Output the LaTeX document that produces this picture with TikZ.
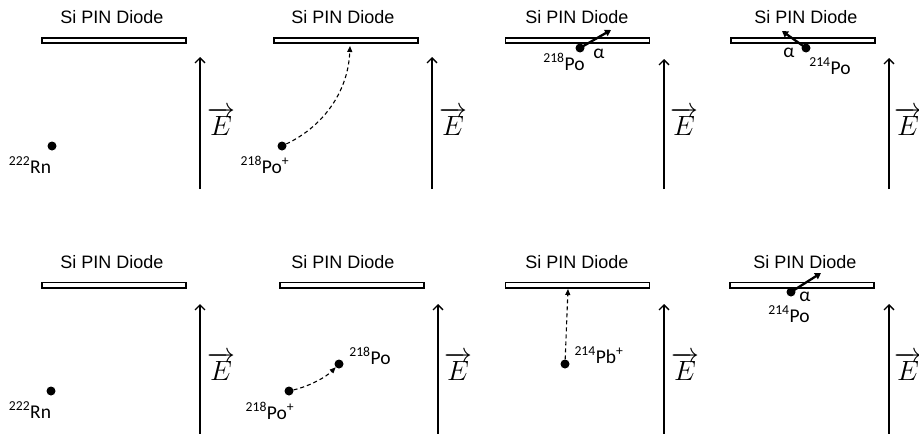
\documentclass[tikz,border=0pt]{standalone}
\usepackage{fontspec}
\setmainfont{Liberation Sans}
\newfontfamily\isofont{Carlito}
\usetikzlibrary{arrows.meta}
\newcommand\fieldsym{\scalebox{1.12}{\Huge$\overrightarrow{E}$}}
\begin{document}
\begin{tikzpicture}[x=1pt,y=-1pt,
  title/.style={font=\fontsize{18}{20}\selectfont, inner sep=0pt},
  diode/.style={draw, line width=1.8pt, fill=white, minimum width=144pt,
    minimum height=5.2pt, inner sep=0pt, outer sep=0pt},
  field/.style={line width=1.3pt, -{Straight Barb[length=5pt,width=10pt,line width=1.3pt]}},
  elabel/.style={inner sep=0pt},
  atom/.style={circle, fill=black, minimum size=9pt, inner sep=0pt},
  iso/.style={font=\isofont\fontsize{19.5}{21}\selectfont, inner sep=0pt},
  drift/.style={line width=1.1pt, dash pattern=on 4pt off 3pt,
    -{Triangle[length=6pt,width=5pt]}},
  alpha/.style={line width=2.3pt, -{Triangle[length=6pt,width=7pt]}},
]
\useasboundingbox (0,0) rectangle (919,434);

% ---------- top row ----------
% panel 1: radon atom
\node[title] (t1) at (112,17) {Si PIN Diode};
\node[diode] (d1) at (114,40.5) {};
\coordinate (e1a) at (200,189); \coordinate (e1b) at (200,57);
\draw[field] (e1a) -- (e1b);
\node[elabel] (E1) at (221,121) {\fieldsym};
\node[atom] (a1) at (52,146) {};
\node[iso] (l1) at (30,165) {\textsuperscript{222}Rn};

% panel 2: Po-218 ion drifting to the diode
\node[title] (t2) at (343,17) {Si PIN Diode};
\node[diode] (d2) at (346,40.5) {};
\coordinate (e2a) at (432,189); \coordinate (e2b) at (432,57);
\draw[field] (e2a) -- (e2b);
\node[elabel] (E2) at (453,121) {\fieldsym};
\node[atom] (a2) at (282,146) {};
\node[iso] (l2) at (265,165) {\textsuperscript{218}Po\textsuperscript{+}};
\coordinate (h2) at (350,46);
\draw[drift] (a2) .. controls (320,128) and (348,95) .. (h2);

% panel 3: Po-218 alpha decay on the diode
\node[title] (t3) at (577,17) {Si PIN Diode};
\node[diode] (d3) at (577.5,40.5) {};
\coordinate (e3a) at (664,189); \coordinate (e3b) at (664,59);
\draw[field] (e3a) -- (e3b);
\node[elabel] (E3) at (684,121) {\fieldsym};
\node[atom] (a3) at (580,48) {};
\coordinate (h3) at (611,30);
\draw[alpha] (a3.center) -- (h3);
\node[iso] (al3) at (599,54) {α};
\node[iso] (l3) at (564,62) {\textsuperscript{218}Po};

% panel 4: Po-214 alpha decay on the diode
\node[title] (t4) at (806,17) {Si PIN Diode};
\node[diode] (d4) at (803,40.5) {};
\coordinate (e4a) at (889,189); \coordinate (e4b) at (889,58);
\draw[field] (e4a) -- (e4b);
\node[elabel] (E4) at (908,121) {\fieldsym};
\node[atom] (a4) at (806,48) {};
\coordinate (h4) at (782,31);
\draw[alpha] (a4.center) -- (h4);
\node[iso] (al4) at (789,53) {α};
\node[iso] (l4) at (830,66) {\textsuperscript{214}Po};

% ---------- bottom row ----------
% panel 5: radon atom
\node[title] (t5) at (112,262) {Si PIN Diode};
\node[diode] (d5) at (114,285) {};
\coordinate (e5a) at (200,440); \coordinate (e5b) at (200,304);
\draw[field] (e5a) -- (e5b);
\node[elabel] (E5) at (221,366) {\fieldsym};
\node[atom] (a5) at (51,391) {};
\node[iso] (l5) at (30,410) {\textsuperscript{222}Rn};

% panel 6: Po-218 ion neutralised in flight
\node[title] (t6) at (343,262) {Si PIN Diode};
\node[diode] (d6) at (352,285) {};
\coordinate (e6a) at (438,440); \coordinate (e6b) at (438,304);
\draw[field] (e6a) -- (e6b);
\node[elabel] (E6) at (458,366) {\fieldsym};
\node[atom] (a6) at (289,391) {};
\node[atom] (b6) at (339,364) {};
\node[iso] (l6) at (270,411) {\textsuperscript{218}Po\textsuperscript{+}};
\node[iso] (m6) at (370,356) {\textsuperscript{218}Po};
\draw[drift] (a6) .. controls (310,386) and (326,377) .. (b6);

% panel 7: Pb-214 ion drifting to the diode
\node[title] (t7) at (577,262) {Si PIN Diode};
\node[diode] (d7) at (577.5,285) {};
\coordinate (e7a) at (664,440); \coordinate (e7b) at (664,304);
\draw[field] (e7a) -- (e7b);
\node[elabel] (E7) at (685,366) {\fieldsym};
\node[atom] (a7) at (565,364) {};
\node[iso] (l7) at (599,355) {\textsuperscript{214}Pb\textsuperscript{+}};
\coordinate (h7) at (568,289);
\draw[drift] (a7) -- (h7);

% panel 8: Po-214 alpha decay on the diode
\node[title] (t8) at (805,262) {Si PIN Diode};
\node[diode] (d8) at (802,285) {};
\coordinate (e8a) at (889,440); \coordinate (e8b) at (889,304);
\draw[field] (e8a) -- (e8b);
\node[elabel] (E8) at (908,366) {\fieldsym};
\node[atom] (a8) at (791,292) {};
\coordinate (h8) at (821,273);
\draw[alpha] (a8.center) -- (h8);
\node[iso] (al8) at (805,297) {α};
\node[iso] (l8) at (789,314) {\textsuperscript{214}Po};
\end{tikzpicture}
\end{document}
